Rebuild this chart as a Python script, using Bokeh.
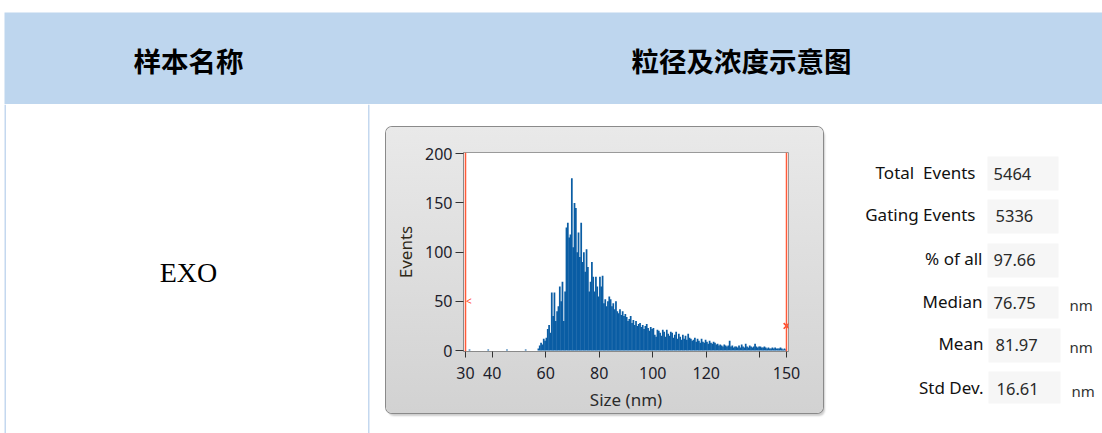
from bokeh.plotting import figure
from bokeh.models import Range1d, FixedTicker, Span, ColumnDataSource, Spacer
from bokeh.layouts import row, column
from bokeh.core.properties import value
from bokeh.embed import file_html
from bokeh.resources import INLINE

# ---------------- data ----------------
header_cols = ["样本名称", "粒径及浓度示意图"]
sample_name = "EXO"

bin_start = 57.0
bin_width = 0.5
counts = [
    2, 5, 8, 6, 12, 10, 13, 22, 26, 18,          # 57-61
    59, 35, 59, 30, 40, 45, 65, 50, 70, 30,      # 62-66
    60, 125, 130, 115, 118, 175, 105, 150, 145, 100,  # 67-71
    120, 95, 130, 90, 100, 80, 103, 85, 60, 70,  # 72-76
    90, 75, 60, 75, 65, 55, 75, 65, 76, 48,      # 77-81
    52, 45, 50, 55, 52, 45, 48, 42, 50, 40,      # 82-86
    38, 42, 36, 40, 35, 37, 34, 30, 32, 35,      # 87-91
    28, 31, 26, 30, 25, 27, 28, 24, 26, 22,      # 92-96
    25, 27, 23, 20, 24, 22, 23, 16, 14, 21,      # 97-101
    20, 18, 15, 21, 19, 14, 21, 17, 15, 19,      # 102-106
    18, 13, 16, 19, 12, 17, 14, 11, 16, 12,      # 107-111
    15, 11, 17, 13, 12, 10, 11, 13, 9, 12,       # 112-116
    10, 8, 12, 9, 8, 11, 9, 7, 10, 8,            # 117-121
    7, 9, 8, 6, 7, 5, 6, 5, 4, 6,                # 122-126
    5, 4, 5, 10, 4, 5, 3, 4, 4, 3,               # 127-131
    5, 3, 6, 4, 3, 7, 4, 3, 5, 4,                # 132-136
    3, 4, 7, 4, 3, 4, 4, 3, 3, 4,                # 137-141
    3, 2, 3, 2, 2, 3, 2, 3, 2, 2,                # 142-146
    2, 3, 2, 1, 2, 1,                            # 147-149
]
stray_sizes = [31.5, 38.5, 45.5, 52.5]
stray_counts = [1, 1, 1, 1]

x_ticks = [30, 40, 60, 80, 100, 120, 140, 150]
y_ticks = [0, 50, 100, 150, 200]
gate_low, gate_high = 30, 150
gate_low_mark, gate_high_mark = 50, 25

stat_labels = ["Total  Events", "Gating Events", "% of all", "Median", "Mean", "Std Dev."]
stat_values = ["5464", "5336", "97.66", "76.75", "81.97", "16.61"]
stat_units = ["", "", "", "nm", "nm", "nm"]

LINE_BLUE = "#c4d8ef"
BAR_BLUE = "#0a5da4"


def deco(w, h, fill="white"):
    f = figure(width=w, height=h, output_backend="svg", toolbar_location=None,
               title=None, x_range=Range1d(0, w), y_range=Range1d(h, 0),
               x_axis_location=None, y_axis_location=None, min_border=0)
    f.grid.visible = False
    f.outline_line_color = None
    f.background_fill_color = fill
    f.border_fill_color = fill
    return f


def rect(f, l, t, r, b, color):
    f.quad(left=[l], right=[r], top=[t], bottom=[b], fill_color=color,
           line_color=None)


def txt(f, x, y, s, size, font="Noto Sans", color="#1a1a1a", align="left",
        style="normal"):
    f.text(x=[x], y=[y], text=[s], text_font=value(font), text_font_size=size,
           text_color=color, text_align=align, text_baseline="middle",
           text_font_style=style)


# ---------------- header ----------------
hdr = deco(1102, 104)
rect(hdr, 4, 12, 1102, 104, "#bed6ee")
txt(hdr, 188, 59, header_cols[0], "27.5px", font="Noto Sans CJK SC",
    color="#000000", align="center", style="bold")
txt(hdr, 741, 59, header_cols[1], "27.5px", font="Noto Sans CJK SC",
    color="#000000", align="center", style="bold")

# ---------------- left cell ----------------
left = deco(386, 329)
rect(left, 4, 0, 5.5, 329, LINE_BLUE)
rect(left, 367.5, 0, 369, 329, LINE_BLUE)
txt(left, 188, 168, sample_name, "28px", font="Liberation Serif",
    color="#000000", align="center")

# ---------------- histogram panel ----------------
HW, HH = 437, 286
FL, FR, FT, FB = 77, 402, 25, 225
p = figure(width=HW, height=HH, output_backend="svg", toolbar_location=None,
           title=None,
           x_range=Range1d(29.25, 150.75), y_range=Range1d(-1.0, 201.3),
           min_border_left=FL, min_border_right=HW - FR,
           min_border_top=FT, min_border_bottom=HH - FB)
p.background_fill_color = "white"
p.border_fill_color = None
p.outline_line_color = "#9a9a9a"
p.xgrid.visible = False
p.ygrid.visible = False
p.styles = {
    "background": "linear-gradient(to bottom, #e9e9e9, #d2d2d2)",
    "border-radius": "6px",
    "box-shadow": "0 0 0 1px #8a8a8a, 2px 3px 2px rgba(0,0,0,0.20)",
}

centers = [bin_start + bin_width * (i + 0.5) for i in range(len(counts))]
src = ColumnDataSource(dict(x=centers + stray_sizes, top=counts + stray_counts))
# bars drawn slightly overlapping so the filled body shows no seams
p.vbar(x="x", top="top", bottom=0, width=bin_width * 1.3, source=src,
       fill_color=BAR_BLUE, line_color=None)

for loc in (gate_low, gate_high):
    p.add_layout(Span(location=loc, dimension="height", line_color="#ff5b3a",
                      line_width=1.5))
p.scatter(x=[gate_high], y=[gate_high_mark], marker="x", size=8,
          line_color="#ff4a2a", line_width=1.6)
p.text(x=[gate_low + 0.2], y=[gate_low_mark], text=["<"], text_color="#ff4a2a",
       text_font=value("Noto Sans"), text_font_size="10px",
       text_baseline="middle", text_align="left")

for ax in (p.xaxis[0], p.yaxis[0]):
    ax.axis_line_color = "#8a8a8a"
    ax.major_tick_line_color = "#333333"
    ax.minor_tick_line_color = None
    ax.major_tick_in = 0
    ax.major_label_text_font = "Noto Sans"
    ax.major_label_text_font_size = "16px"
    ax.major_label_text_color = "#1d1d2b"
    ax.axis_label_text_font = "Noto Sans"
    ax.axis_label_text_font_size = "17px"
    ax.axis_label_text_font_style = "normal"

p.xaxis.ticker = FixedTicker(ticks=x_ticks)
p.xaxis.major_label_overrides = {140: ""}
p.xaxis.major_tick_out = 6
p.xaxis.major_label_standoff = 9
p.xaxis.axis_label = "Size (nm)"
p.xaxis.axis_label_standoff = 6
p.xaxis.axis_label_text_color = "#2b2b2b"

p.yaxis.ticker = FixedTicker(ticks=y_ticks)
p.yaxis.major_tick_out = 8
p.yaxis.major_label_standoff = 3
p.yaxis.axis_label = "Events"
p.yaxis.axis_label_standoff = 5
p.yaxis.axis_label_text_color = "#2e2818"

mid = column(Spacer(width=HW, height=23), p, Spacer(width=HW, height=329 - 23 - HH),
             spacing=0)

# ---------------- stats cell ----------------
RX, RY = 823, 104
right = deco(279, 329, fill=None)
stat_rows = [
    (975, 172, 987, 156, 1058, 190, 993, None),
    (975, 214, 987, 199, 1058, 233, 995, None),
    (982, 258, 987, 243, 1058, 277, 993, None),
    (982, 301, 987, 286, 1058, 318, 993, 1069),
    (983, 343, 988, 328, 1060, 362, 995, 1069),
    (983, 387, 988, 371, 1060, 403, 996, 1071),
]
for i, (lx, ly, bl, bt, br, bb, vx, ux) in enumerate(stat_rows):
    rect(right, bl - RX, bt - RY, br - RX, bb - RY, "#f6f6f6")
    shown = stat_labels[i].replace("  ", "\u00a0 ")
    txt(right, lx - RX, ly - RY, shown, "17px", color="#111111", align="right")
    txt(right, vx - RX, ly + 1 - RY, stat_values[i], "16.5px", color="#2a2a2a")
    if ux:
        txt(right, ux - RX, ly + 3 - RY, stat_units[i], "15px", color="#333333")

body = row(left, mid, right, spacing=0)
page = column(hdr, body, spacing=0)

open("out.html", "w").write(file_html(page, INLINE))
